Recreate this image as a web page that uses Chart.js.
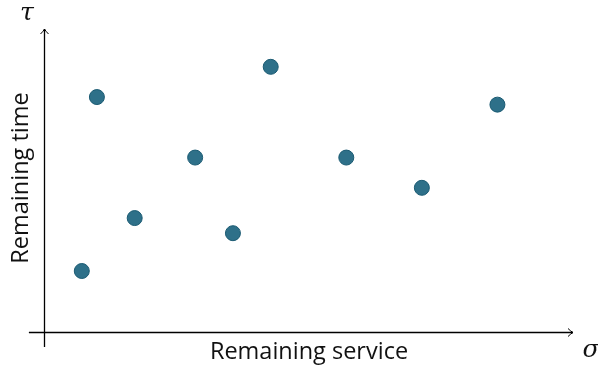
<!DOCTYPE html>
<html>
<head>
<meta charset="utf-8">
<script src="https://cdn.jsdelivr.net/npm/chart.js@4"></script>
<style>
html,body{margin:0;padding:0;background:#fff;}
canvas{display:block;}
</style>
</head>
<body>
<canvas id="c" width="598" height="365"></canvas>
<script>
const serviceValues = [1, 1.4, 2.4, 4, 5, 6, 8, 10, 12];
const timeValues = [4, 15.5, 7.5, 11.5, 6.5, 17.5, 11.5, 9.5, 15];
const xAxisLabel = "Remaining service";
const yAxisLabel = "Remaining time";
const xSymbol = "σ";
const ySymbol = "τ";

const points = serviceValues.map((v, i) => ({x: v, y: timeValues[i]}));

const axesPlugin = {
  id: 'axesPlugin',
  beforeDatasetsDraw(chart) {
    const {ctx, scales: {x, y}} = chart;
    const x0 = x.getPixelForValue(0), y0 = y.getPixelForValue(0);
    const xs = x.getPixelForValue(-0.4), xe = x.getPixelForValue(14);
    const ys = y.getPixelForValue(-1.03), ye = y.getPixelForValue(20);
    ctx.save();
    ctx.strokeStyle = '#000';
    ctx.lineWidth = 1.3;
    ctx.beginPath();
    ctx.moveTo(xs, Math.round(y0) + 0.5); ctx.lineTo(xe, Math.round(y0) + 0.5);
    ctx.moveTo(Math.round(x0) + 0.5, ys); ctx.lineTo(Math.round(x0) + 0.5, ye);
    ctx.stroke();
    ctx.lineWidth = 1;
    ctx.beginPath();
    const yy = Math.round(y0) + 0.5, xx = Math.round(x0) + 0.5;
    ctx.moveTo(xe - 5, yy - 4); ctx.quadraticCurveTo(xe - 2, yy - 1, xe, yy); ctx.quadraticCurveTo(xe - 2, yy + 1, xe - 5, yy + 4);
    ctx.moveTo(xx - 4, ye + 5); ctx.quadraticCurveTo(xx - 1, ye + 2, xx, ye); ctx.quadraticCurveTo(xx + 1, ye + 2, xx + 4, ye + 5);
    ctx.stroke();

    ctx.fillStyle = '#111';
    ctx.textAlign = 'center';
    ctx.textBaseline = 'alphabetic';
    ctx.font = '23.5px "Open Sans"';
    ctx.fillText(xAxisLabel, 309, 359);
    ctx.save();
    ctx.translate(28, 178);
    ctx.rotate(-Math.PI / 2);
    ctx.fillText(yAxisLabel, 0, 0);
    ctx.restore();
    ctx.font = 'italic 25px "DejaVu Serif"';
    ctx.fillText(ySymbol, 27, 20);
    ctx.fillText(xSymbol, 591, 357);
    ctx.restore();
  }
};

new Chart(document.getElementById('c'), {
  type: 'scatter',
  data: {
    datasets: [{
      data: points,
      backgroundColor: '#2e7089',
      borderColor: '#1a5a72',
      borderWidth: 1,
      pointRadius: 7.5,
      pointHoverRadius: 7.5
    }]
  },
  options: {
    responsive: false,
    animation: false,
    events: [],
    layout: {padding: {left: 44, right: 25, top: 29, bottom: 33.5}},
    plugins: {legend: {display: false}, tooltip: {enabled: false}},
    scales: {
      x: {type: 'linear', min: 0, max: 14, display: false},
      y: {type: 'linear', min: 0, max: 20, display: false}
    }
  },
  plugins: [axesPlugin]
});
</script>
</body>
</html>
